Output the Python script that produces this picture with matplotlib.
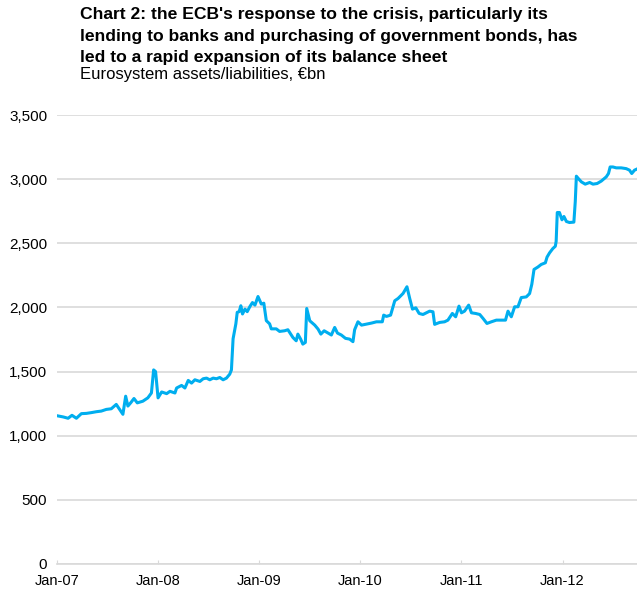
import numpy as np
import pandas as pd
import matplotlib
matplotlib.use("Agg")
import matplotlib.pyplot as plt
import matplotlib.dates as mdates

plt.rcParams['font.family'] = ['Liberation Sans', 'DejaVu Sans']

# Eurosystem balance sheet, EUR bn
dates = [
    '2007-01-05', '2007-01-24', '2007-02-10', '2007-02-24', '2007-03-12', '2007-03-30',
    '2007-04-17', '2007-05-05', '2007-05-23', '2007-06-10', '2007-06-28', '2007-07-16',
    '2007-08-03', '2007-08-15', '2007-08-27', '2007-09-06', '2007-09-14', '2007-09-24',
    '2007-10-06', '2007-10-18', '2007-11-07', '2007-11-25', '2007-12-08', '2007-12-16',
    '2007-12-23', '2008-01-01', '2008-01-14', '2008-02-01', '2008-02-13', '2008-03-02',
    '2008-03-08', '2008-03-26', '2008-04-07', '2008-04-19', '2008-05-01', '2008-05-13',
    '2008-05-31', '2008-06-12', '2008-06-24', '2008-07-06', '2008-07-18', '2008-07-30',
    '2008-08-11', '2008-08-23', '2008-09-04', '2008-09-16', '2008-09-22', '2008-09-28',
    '2008-10-08', '2008-10-13', '2008-10-20', '2008-10-26', '2008-11-01', '2008-11-10',
    '2008-11-18', '2008-11-28', '2008-12-07', '2008-12-16', '2008-12-27', '2009-01-08',
    '2009-01-17', '2009-01-26', '2009-02-07', '2009-02-13', '2009-03-03', '2009-03-15',
    '2009-04-02', '2009-04-14', '2009-04-24', '2009-05-02', '2009-05-14', '2009-05-20',
    '2009-05-30', '2009-06-07', '2009-06-16', '2009-06-21', '2009-07-02', '2009-07-20',
    '2009-08-01', '2009-08-11', '2009-08-23', '2009-09-06', '2009-09-18', '2009-09-30',
    '2009-10-10', '2009-10-24', '2009-11-08', '2009-11-23', '2009-12-05', '2009-12-11',
    '2009-12-23', '2010-01-05', '2010-01-23', '2010-02-10', '2010-02-28', '2010-03-21',
    '2010-03-26', '2010-04-05', '2010-04-20', '2010-05-05', '2010-05-17', '2010-05-23',
    '2010-06-04', '2010-06-18', '2010-06-28', '2010-07-08', '2010-07-20', '2010-08-01',
    '2010-08-15', '2010-08-27', '2010-09-08', '2010-09-20', '2010-09-26', '2010-10-14',
    '2010-11-01', '2010-11-13', '2010-11-29', '2010-12-11', '2010-12-23', '2011-01-01',
    '2011-01-12', '2011-01-27', '2011-02-06', '2011-02-21', '2011-03-08', '2011-03-20',
    '2011-04-03', '2011-04-19', '2011-05-07', '2011-05-25', '2011-06-09', '2011-06-18',
    '2011-06-30', '2011-07-12', '2011-07-24', '2011-08-05', '2011-08-23', '2011-09-04',
    '2011-09-12', '2011-09-20', '2011-10-04', '2011-10-16', '2011-10-31', '2011-11-06',
    '2011-11-15', '2011-11-27', '2011-12-06', '2011-12-09', '2011-12-13', '2011-12-21',
    '2011-12-30', '2012-01-06', '2012-01-15', '2012-01-26', '2012-02-11', '2012-02-16',
    '2012-02-20', '2012-02-29', '2012-03-09', '2012-03-23', '2012-04-08', '2012-04-20',
    '2012-05-05', '2012-05-20', '2012-06-07', '2012-06-15', '2012-06-21', '2012-07-01',
    '2012-07-13', '2012-07-31', '2012-08-18', '2012-08-30', '2012-09-07', '2012-09-17',
    '2012-09-24',
]
assets = [
    1154, 1146, 1136, 1159, 1136, 1172,
    1174, 1180, 1187, 1192, 1205, 1210,
    1244, 1205, 1167, 1308, 1231, 1256,
    1290, 1256, 1269, 1295, 1333, 1513,
    1500, 1295, 1341, 1328, 1346, 1333,
    1372, 1392, 1372, 1431, 1410, 1436,
    1423, 1444, 1449, 1436, 1449, 1444,
    1454, 1436, 1449, 1480, 1513, 1756,
    1872, 1962, 1967, 2013, 1949, 1987,
    1967, 2008, 2038, 2018, 2085, 2026,
    2033, 1897, 1872, 1833, 1833, 1813,
    1818, 1826, 1792, 1766, 1740, 1792,
    1753, 1714, 1727, 1992, 1896, 1862,
    1831, 1792, 1818, 1800, 1785, 1844,
    1800, 1785, 1759, 1753, 1733, 1826,
    1888, 1862, 1870, 1878, 1888, 1888,
    1940, 1930, 1940, 2052, 2070, 2083,
    2109, 2161, 2070, 1987, 1997, 1953,
    1945, 1958, 1971, 1966, 1868, 1883,
    1888, 1901, 1953, 1927, 2010, 1958,
    1971, 2018, 1958, 1953, 1945, 1914,
    1875, 1888, 1901, 1901, 1901, 1971,
    1927, 2005, 2005, 2077, 2082, 2108,
    2180, 2296, 2315, 2335, 2348, 2392,
    2425, 2459, 2477, 2516, 2740, 2740,
    2683, 2709, 2670, 2662, 2665, 2825,
    3023, 3000, 2979, 2961, 2974, 2961,
    2966, 2985, 3018, 3044, 3095, 3095,
    3088, 3088, 3082, 3070, 3044, 3070,
    3077,
]
yticks = [0, 500, 1000, 1500, 2000, 2500, 3000, 3500]
xticks = ['2007-01-01', '2008-01-01', '2009-01-01', '2010-01-01', '2011-01-01', '2012-01-01']

title = ("Chart 2: the ECB's response to the crisis, particularly its\n"
         "lending to banks and purchasing of government bonds, has\n"
         "led to a rapid expansion of its balance sheet")
subtitle = "Eurosystem assets/liabilities, €bn"

x = pd.to_datetime(dates)

fig = plt.figure(figsize=(6.37, 5.91), dpi=100)
ax = fig.add_axes([0.0895, 0.0457, 0.9105, 0.7597])

ax.plot(x, assets, color='#00aeef', lw=2.2, solid_joinstyle='round', zorder=3)

ax.set_ylim(0, 3500)
ax.set_xlim(pd.Timestamp('2007-01-01'), pd.Timestamp('2012-09-26'))
ax.set_yticks(yticks)
ax.set_yticklabels([f'{v:,}' for v in yticks])
ax.set_xticks(pd.to_datetime(xticks))
ax.xaxis.set_major_formatter(mdates.DateFormatter('Jan-%y'))

ax.grid(axis='y', color='#d9d9d9', lw=1.2, zorder=0)
for s in ['top', 'right', 'left']:
    ax.spines[s].set_visible(False)
ax.spines['bottom'].set_color('#d9d9d9')
ax.spines['bottom'].set_linewidth(1.2)
ax.tick_params(axis='y', length=0, pad=7, labelsize=11)
ax.tick_params(axis='x', direction='in', length=3, color='#d9d9d9', labelsize=10.5, pad=7)

fig.text(0.125, 0.988, title, fontsize=12.6, fontweight='bold', va='top', linespacing=1.55)
fig.text(0.125, 0.8745, subtitle, fontsize=12, va='center')

fig.savefig('out.png', dpi=100)
